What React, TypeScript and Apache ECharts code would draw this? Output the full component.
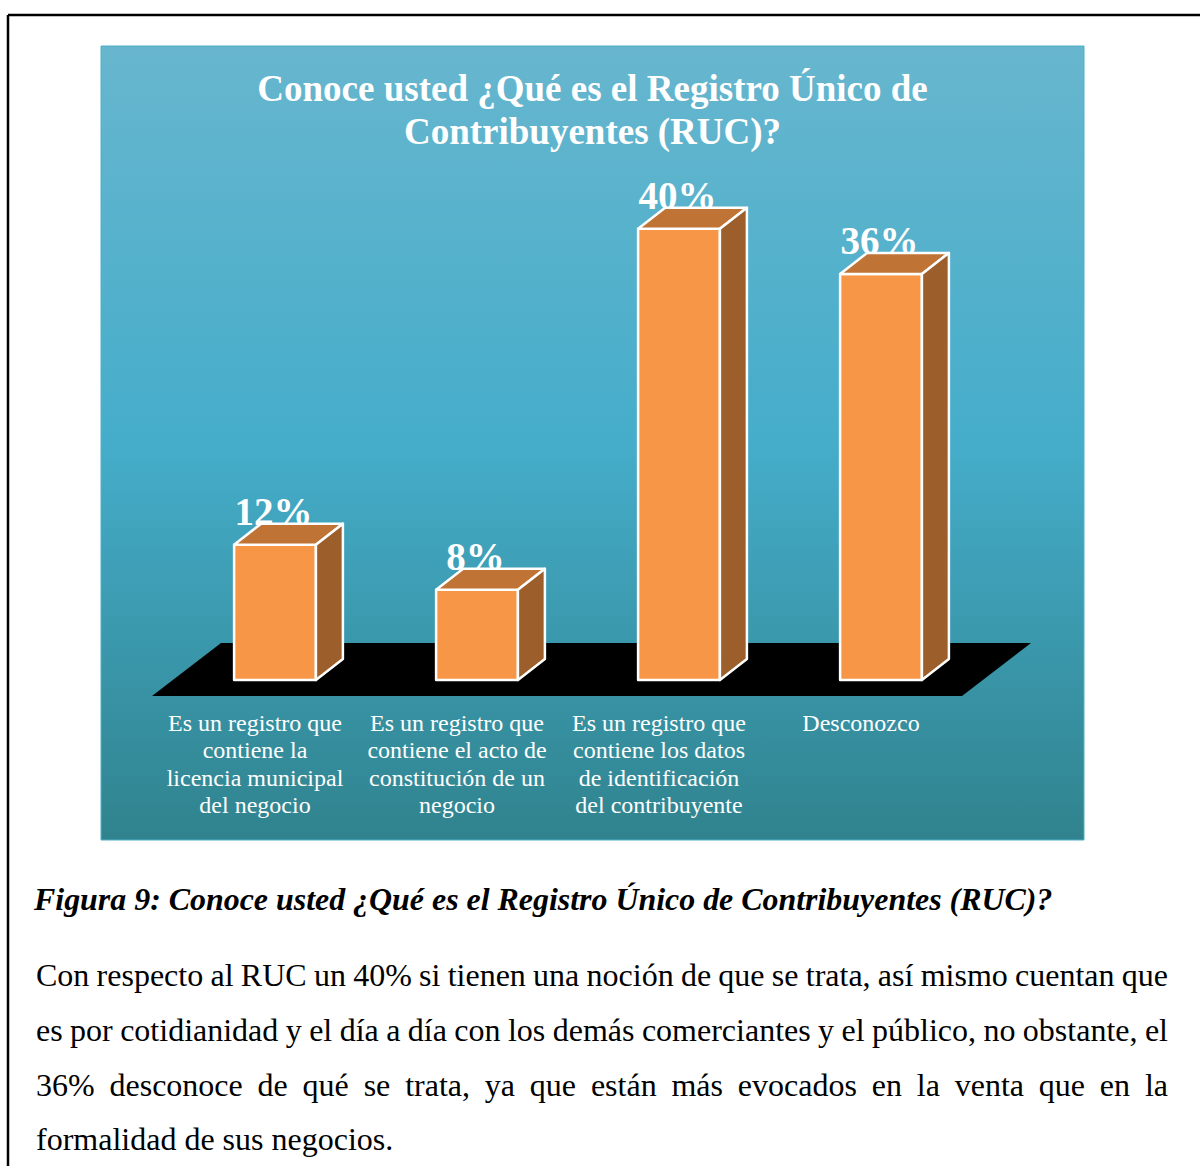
import React, { useEffect, useRef } from "react";
import * as echarts from "echarts";

// ---------- data ----------
const chartTitle = ["Conoce usted ¿Qué es el Registro Único de", "Contribuyentes (RUC)?"];
const categories = [
  "Es un registro que\ncontiene la\nlicencia municipal\ndel negocio",
  "Es un registro que\ncontiene el acto de\nconstitución de un\nnegocio",
  "Es un registro que\ncontiene los datos\nde identificación\ndel contribuyente",
  "Desconozco",
];
const values = [12, 8, 40, 36];
const caption = "Figura 9: Conoce usted ¿Qué es el Registro Único de Contribuyentes (RUC)?";
const bodyLines = [
  "Con respecto al RUC un 40% si tienen una noción de que se trata, así mismo cuentan que",
  "es por cotidianidad y el día a día con los demás comerciantes y el público, no obstante, el",
  "36% desconoce de qué se trata, ya que están más evocados en la venta que en la",
  "formalidad de sus negocios.",
];

const SERIF = "'Liberation Serif', 'Times New Roman', serif";
const CENTRAL = 0.3375; // central-baseline offset ratio

function measure(text: string, font: string): number {
  const ctx = document.createElement("canvas").getContext("2d")!;
  ctx.font = font;
  return ctx.measureText(text).width;
}

function txt(x: number, y: number, text: string, font: string, fill: string, align = "left", extra: any = {}) {
  return {
    type: "text",
    x,
    y,
    z: 10,
    style: {
      text,
      font,
      fill,
      align,
      verticalAlign: "middle",
      textAlign: align,
      textVerticalAlign: "middle",
    },
    ...extra,
  };
}

export default function App() {
  const ref = useRef<HTMLDivElement>(null);

  useEffect(() => {
    if (!ref.current) return;
    const chart = echarts.init(ref.current, undefined, { renderer: "svg" });

    const graphics: any[] = [];
    // outer frame
    graphics.push({ type: "line", z: 1, shape: { x1: 8, y1: 15, x2: 1200, y2: 15 }, style: { stroke: "#000", lineWidth: 2.5 } });
    graphics.push({ type: "line", z: 1, shape: { x1: 8, y1: 15, x2: 8, y2: 1166 }, style: { stroke: "#000", lineWidth: 2.5 } });
    // chart panel
    graphics.push({
      type: "rect",
      z: -10,
      shape: { x: 101, y: 46, width: 983, height: 794 },
      style: {
        fill: new echarts.graphic.LinearGradient(0, 0, 0, 1, [
          { offset: 0, color: "#67b6ce" },
          { offset: 0.5, color: "#45adca" },
          { offset: 1, color: "#30838e" },
        ]),
        stroke: "#4fb0c8",
        lineWidth: 1,
      },
    });
    // chart title
    const titleFont = `bold 37px ${SERIF}`;
    graphics.push(txt(592.5, 101 - CENTRAL * 37, chartTitle[0], titleFont, "#ffffff", "center"));
    graphics.push(txt(592.5, 144 - CENTRAL * 37, chartTitle[1], titleFont, "#ffffff", "center"));

    // caption, fitted to its width
    const capBase = 31;
    const capW = measure(caption, `italic bold ${capBase}px ${SERIF}`);
    const capSize = Math.min(34, Math.max(26, (capBase * 1019) / capW));
    graphics.push(txt(34, 910 - CENTRAL * capSize, caption, `italic bold ${capSize}px ${SERIF}`, "#000000"));

    // body paragraph, justified
    const bodySize = 32;
    const bodyFont = `${bodySize}px ${SERIF}`;
    const left = 36;
    const right = 1168;
    const baselines = [986, 1041, 1096, 1150];
    bodyLines.forEach((line, li) => {
      const y = baselines[li] - CENTRAL * bodySize;
      const isLast = li === bodyLines.length - 1;
      if (isLast) {
        graphics.push(txt(left, y, line, bodyFont, "#000000"));
        return;
      }
      const words = line.split(" ");
      const widths = words.map((w) => measure(w, bodyFont));
      const total = widths.reduce((a, b) => a + b, 0);
      const gap = (right - left - total) / (words.length - 1);
      let x = left;
      words.forEach((w, wi) => {
        graphics.push(txt(x, y, w, bodyFont, "#000000"));
        x += widths[wi] + gap;
      });
    });

    const DX = 27;
    const DY = 21;
    const labelSize = 39;

    const option: any = {
      animation: false,
      grid: { left: 174, width: 808, top: 116, bottom: 486 },
      xAxis: {
        type: "category",
        data: categories,
        axisLine: { show: false },
        axisTick: { show: false },
        splitLine: { show: false },
        axisLabel: {
          interval: 0,
          color: "#ffffff",
          fontFamily: SERIF,
          fontSize: 24,
          lineHeight: 27.5,
          margin: 29,
          padding: [0, 40, 0, 0],
        },
      },
      yAxis: { type: "value", min: 0, max: 50, show: false, splitLine: { show: false } },
      graphic: graphics,
      series: [
        {
          type: "custom",
          name: "floor",
          z: 1,
          data: [[0, 0]],
          renderItem: (params: any, api: any) => {
            const cs = params.coordSys;
            const L = cs.x;
            const R = cs.x + cs.width;
            const B = cs.y + cs.height;
            return {
              type: "polygon",
              shape: {
                points: [
                  [L - 22, B + 16],
                  [R - 20, B + 16],
                  [R + 49, B - 37],
                  [L + 47, B - 37],
                ],
              },
              style: { fill: "#000000" },
            };
          },
        },
        {
          type: "custom",
          name: "bars",
          z: 3,
          data: values.map((v, i) => [i, v]),
          encode: { x: 0, y: 1 },
          renderItem: (params: any, api: any) => {
            const i = api.value(0);
            const v = api.value(1);
            const top = api.coord([i, v]);
            const base = api.coord([i, 0]);
            const band = api.size([1, 0])[0];
            const w = band * 0.405;
            const x0 = top[0] - w / 2;
            const x1 = top[0] + w / 2;
            const yT = top[1];
            const yB = base[1];
            const edge = { stroke: "#ffffff", lineWidth: 2.5, lineJoin: "round" };
            return {
              type: "group",
              children: [
                {
                  type: "text",
                  z2: 0,
                  x: top[0] - 1.5,
                  y: yT - DY - CENTRAL * labelSize + 1,
                  style: {
                    text: v + "%",
                    font: `bold ${labelSize}px ${SERIF}`,
                    fill: "#ffffff",
                    align: "center",
                    verticalAlign: "middle",
                    textAlign: "center",
                    textVerticalAlign: "middle",
                  },
                },
                {
                  type: "rect",
                  z2: 5,
                  shape: { x: x0, y: yT, width: w, height: yB - yT },
                  style: { fill: "#f79646", ...edge },
                },
                {
                  type: "polygon",
                  z2: 5,
                  shape: { points: [[x0, yT], [x0 + DX, yT - DY], [x1 + DX, yT - DY], [x1, yT]] },
                  style: { fill: "#bf7334", ...edge },
                },
                {
                  type: "polygon",
                  z2: 5,
                  shape: { points: [[x1, yT], [x1 + DX, yT - DY], [x1 + DX, yB - DY], [x1, yB]] },
                  style: { fill: "#9c5f2c", ...edge },
                },
              ],
            };
          },
        },
      ],
    };

    chart.setOption(option);
    return () => chart.dispose();
  }, []);

  return (
    <div
      ref={ref}
      style={{ position: "absolute", left: 0, top: 0, width: 1200, height: 1166, background: "#ffffff" }}
    />
  );
}
